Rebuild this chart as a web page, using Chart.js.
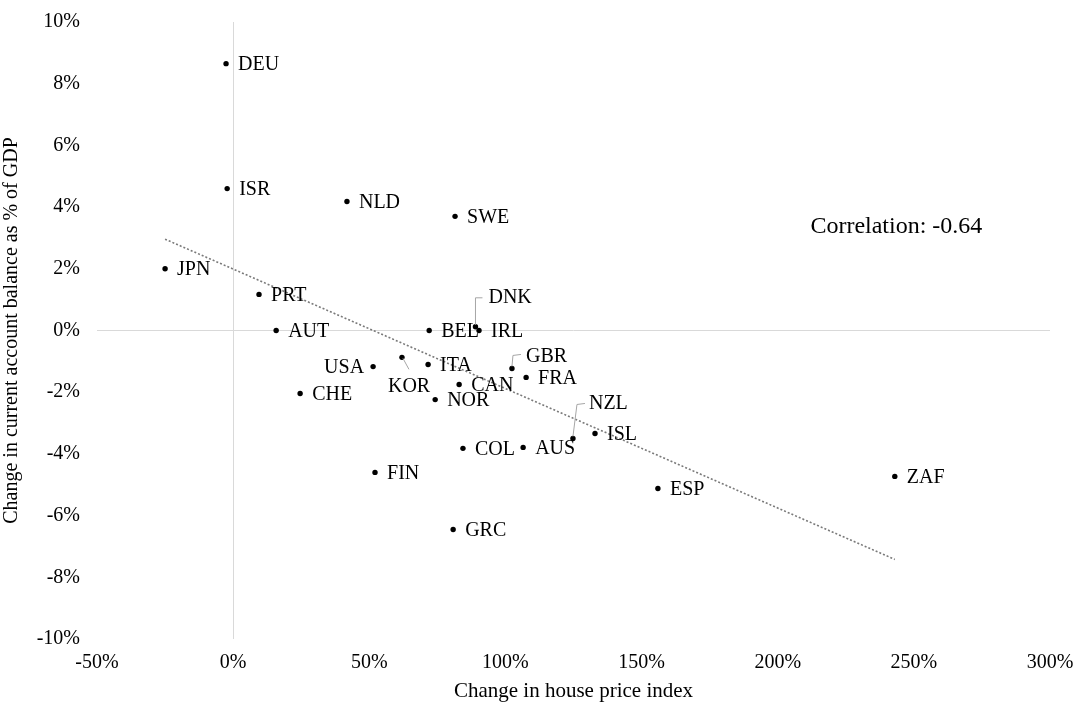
<!DOCTYPE html>
<html>
<head>
<meta charset="utf-8">
<title>House prices vs current account</title>
<script src="https://cdn.jsdelivr.net/npm/chart.js@4.4.1/dist/chart.umd.min.js"></script>
<style>
  body { margin: 0; background: #fff; }
  #wrap { width: 1077px; height: 702px; }
</style>
</head>
<body>
<div id="wrap"><canvas id="myChart"></canvas></div>
<script>
// dati (valori in %)
const countries = ["DEU", "ISR", "NLD", "SWE", "JPN", "PRT", "AUT", "BEL", "DNK", "IRL",
    "USA", "KOR", "ITA", "CAN", "NOR", "CHE", "GBR", "FRA", "NZL", "ISL",
    "COL", "AUS", "FIN", "GRC", "ESP", "ZAF"];
const housePrice = [-2.6, -2.2, 41.8, 81.5, -25, 9.5, 15.8, 72, 89, 90.3,
    51.4, 62, 71.6, 83, 74.2, 24.6, 102.4, 107.6, 124.8, 132.9,
    84.4, 106.5, 52.1, 80.8, 156, 243];
const currentAccount = [8.65, 4.6, 4.18, 3.7, 2.0, 1.17, 0, 0, 0.12, 0,
    -1.17, -0.87, -1.1, -1.75, -2.24, -2.04, -1.23, -1.52, -3.5, -3.34,
    -3.82, -3.79, -4.6, -6.45, -5.12, -4.73];

const xTicks = [-50, 0, 50, 100, 150, 200, 250, 300];
const yTicks = [-10, -8, -6, -4, -2, 0, 2, 4, 6, 8, 10];
const xTitle = "Change in house price index";
const yTitle = "Change in current account balance as % of GDP";
const correlationText = "Correlation: -0.64";

const FONT = '"Liberation Serif", "Times New Roman", serif';

// posizione delle etichette rispetto al punto (px)
const labelPlacement = {
    USA: { dx: -9, align: "right" },
    KOR: { dx: -14, dy: 29, leader: [[1, 1], [7, 12]] },
    DNK: { dx: 13, dy: -29, leader: [[0, -2], [0, -29], [7, -29]] },
    GBR: { dx: 14, dy: -12, leader: [[0, -2], [1, -13], [9, -14]] },
    NZL: { dx: 16, dy: -35, leader: [[0, -2], [4, -34], [12, -35]] },
};

// retta di regressione (minimi quadrati)
function fitLine(xs, ys) {
    const n = xs.length;
    const mx = xs.reduce((a, b) => a + b, 0) / n;
    const my = ys.reduce((a, b) => a + b, 0) / n;
    let sxy = 0, sxx = 0;
    for (let i = 0; i < n; i++) {
        sxy += (xs[i] - mx) * (ys[i] - my);
        sxx += (xs[i] - mx) * (xs[i] - mx);
    }
    const slope = sxy / sxx;
    return (x) => my + slope * (x - mx);
}

const trend = fitLine(housePrice, currentAccount);
const minX = Math.min(...housePrice);
const maxX = Math.max(...housePrice);

const points = housePrice.map((x, i) => ({ x: x, y: currentAccount[i] }));

const labelPlugin = {
    id: "pointLabels",
    afterDatasetsDraw(chart) {
        const ctx = chart.ctx;
        const meta = chart.getDatasetMeta(0);
        ctx.save();
        ctx.font = "20px " + FONT;
        ctx.fillStyle = "#000";
        ctx.textBaseline = "middle";
        meta.data.forEach((pt, i) => {
            const name = countries[i];
            const p = labelPlacement[name] || {};
            const dx = p.dx !== undefined ? p.dx : 12;
            const dy = p.dy !== undefined ? p.dy : 1;
            if (p.leader) {
                ctx.beginPath();
                ctx.strokeStyle = "#a6a6a6";
                ctx.lineWidth = 1;
                p.leader.forEach((q, j) => {
                    if (j === 0) ctx.moveTo(pt.x + q[0], pt.y + q[1]);
                    else ctx.lineTo(pt.x + q[0], pt.y + q[1]);
                });
                ctx.stroke();
            }
            ctx.textAlign = p.align || "left";
            ctx.fillText(name, pt.x + dx, pt.y + dy);
        });
        // correlazione
        const xs = chart.scales.x, ys = chart.scales.y;
        ctx.font = "24px " + FONT;
        ctx.textAlign = "left";
        ctx.fillText(correlationText, xs.getPixelForValue(212), ys.getPixelForValue(3.35));
        ctx.restore();
    },
};

const zeroLine = (c) => (c.tick && c.tick.value === 0 ? "#d9d9d9" : "rgba(0,0,0,0)");

const ctx = document.getElementById("myChart").getContext("2d");
const myChart = new Chart(ctx, {
    type: "scatter",
    data: {
        datasets: [
            {
                label: "Paesi",
                data: points,
                backgroundColor: "#000",
                borderWidth: 0,
                pointRadius: 2.7,
                order: 1,
            },
            {
                label: "Trend",
                type: "line",
                data: [
                    { x: minX, y: trend(minX) },
                    { x: maxX, y: trend(maxX) },
                ],
                borderColor: "#7a7a7a",
                borderWidth: 1.6,
                borderDash: [2, 2],
                pointRadius: 0,
                fill: false,
                order: 2,
            },
        ],
    },
    plugins: [labelPlugin],
    options: {
        responsive: true,
        maintainAspectRatio: false,
        animation: false,
        layout: { padding: { top: 0, right: 0, bottom: 0, left: 0 } },
        plugins: {
            legend: { display: false },
            tooltip: { enabled: false },
        },
        scales: {
            x: {
                type: "linear",
                min: xTicks[0],
                max: xTicks[xTicks.length - 1],
                afterBuildTicks: (scale) => { scale.ticks = xTicks.map((v) => ({ value: v })); },
                afterFit: (scale) => {
                    scale.height = 63;
                    scale.paddingLeft = 0;
                    scale.paddingRight = 27;
                },
                grid: { color: zeroLine, drawTicks: false, lineWidth: 1 },
                border: { display: false },
                ticks: {
                    padding: 12,
                    color: "#000",
                    font: { family: FONT, size: 20 },
                    callback: (v) => v + "%",
                },
                title: {
                    display: true,
                    text: xTitle,
                    color: "#000",
                    font: { family: FONT, size: 21, lineHeight: 1 },
                    padding: { top: 0, bottom: 0 },
                },
            },
            y: {
                type: "linear",
                min: yTicks[0],
                max: yTicks[yTicks.length - 1],
                afterBuildTicks: (scale) => { scale.ticks = yTicks.map((v) => ({ value: v })); },
                afterFit: (scale) => {
                    scale.width = 97;
                    scale.paddingTop = 22;
                    scale.paddingBottom = 0;
                },
                grid: { color: zeroLine, drawTicks: false, lineWidth: 1 },
                border: { display: false },
                ticks: {
                    padding: 17,
                    color: "#000",
                    font: { family: FONT, size: 20 },
                    callback: (v) => v + "%",
                },
                title: {
                    display: true,
                    text: yTitle,
                    color: "#000",
                    font: { family: FONT, size: 20, lineHeight: 1 },
                    padding: { top: 2, bottom: 0 },
                },
            },
        },
    },
});
</script>
</body>
</html>
